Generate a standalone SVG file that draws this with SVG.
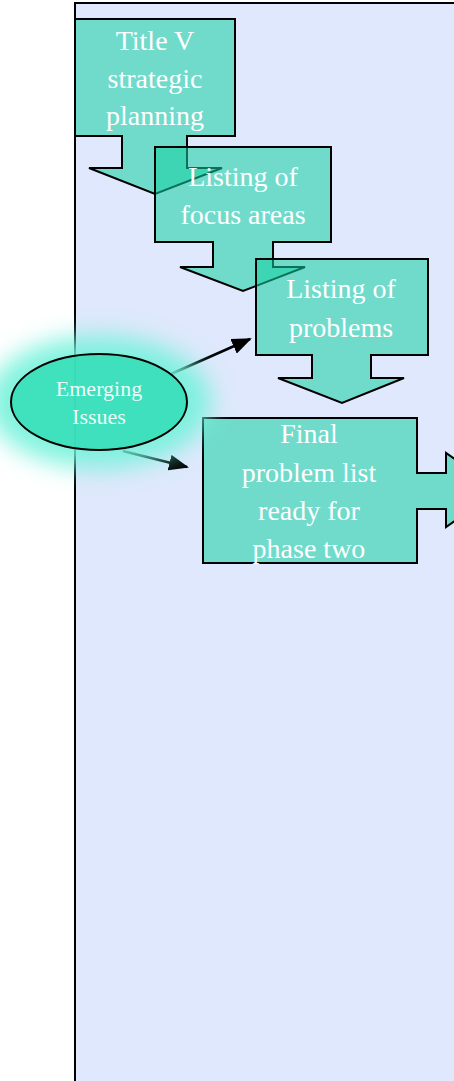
<svg xmlns="http://www.w3.org/2000/svg" width="454" height="1081" viewBox="0 0 454 1081">
  <defs>
    <style>
      .step { fill: #14D0A2; fill-opacity: 0.55; stroke: #000; stroke-width: 2; stroke-linejoin: miter; }
      .label { font-family: "Liberation Serif", "DejaVu Serif", serif; font-size: 28px; fill: #FFFFFF; text-anchor: middle; }
      .small { font-size: 22px; fill-opacity: 0.92; }
      .link { stroke: #000; stroke-width: 2.5; fill: none; }
    </style>
    <marker id="head" markerUnits="userSpaceOnUse" markerWidth="20" markerHeight="16" refX="18" refY="8" orient="auto">
      <path d="M0,0 L20,8 L0,16 Z" fill="#000"/>
    </marker>
    <filter id="glow" x="-50%" y="-50%" width="200%" height="200%">
      <feGaussianBlur stdDeviation="12"/>
    </filter>
  </defs>

  <!-- panel -->
  <rect x="75" y="3" width="420" height="1100" fill="#DFE8FC" stroke="#000" stroke-width="2"/>

  <!-- steps -->
  <g id="step-title-v">
    <path class="step" d="M75,19 H235 V136 H187 V168 H222 L155,194 L89,168 H122 V136 H75 Z"/>
    <text class="label" x="155" y="50">Title V</text>
    <text class="label" x="155" y="88">strategic</text>
    <text class="label" x="155" y="125">planning</text>
  </g>
  <g id="step-focus-areas">
    <path class="step" d="M155,147 H331 V242 H273 V267 H305 L243,291 L180,267 H213 V242 H155 Z"/>
    <text class="label" x="243" y="186">Listing of</text>
    <text class="label" x="243" y="224">focus areas</text>
  </g>
  <g id="step-problems">
    <path class="step" d="M256,259 H428 V355 H371 V378 H404 L342,403 L278,378 H312 V355 H256 Z"/>
    <text class="label" x="341" y="298">Listing of</text>
    <text class="label" x="341" y="337">problems</text>
  </g>
  <g id="step-final">
    <path class="step" d="M203,418 H417 V473 H446 V453 L500,490 L446,527 V509 H417 V563 H203 Z"/>
    <text class="label" x="309" y="443">Final</text>
    <text class="label" x="309" y="482">problem list</text>
    <text class="label" x="309" y="520">ready for</text>
    <text class="label" x="309" y="558">phase two</text>
  </g>

  <!-- connectors -->
  <g id="connectors">
    <line class="link" x1="171" y1="374" x2="250" y2="339" marker-end="url(#head)"/>
    <line class="link" x1="123" y1="451" x2="187" y2="467" marker-end="url(#head)"/>
  </g>

  <!-- emerging issues -->
  <g id="emerging-issues">
    <ellipse cx="99" cy="402" rx="112" ry="66" fill="#72F2DA" fill-opacity="0.9" filter="url(#glow)"/>
    <ellipse cx="99" cy="402" rx="88" ry="48" fill="#30DCB4" fill-opacity="0.8" stroke="#000" stroke-width="2"/>
    <text class="label small" x="99" y="396">Emerging</text>
    <text class="label small" x="99" y="424">Issues</text>
  </g>
</svg>
